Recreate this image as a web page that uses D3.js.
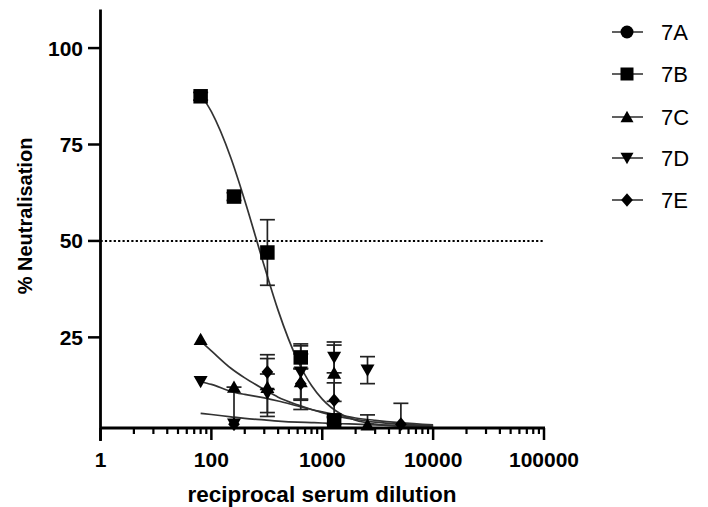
<!DOCTYPE html>
<html>
<head>
<meta charset="utf-8">
<script src="https://cdn.jsdelivr.net/npm/d3@7/dist/d3.min.js"></script>
<style>
  html, body { margin: 0; padding: 0; background: #fff; }
  svg { display: block; }
  text { font-family: "Liberation Sans", Arial, Helvetica, sans-serif; fill: #000; }
</style>
</head>
<body>
<svg id="chart" width="708" height="507"></svg>
<script>
// ---------------- DATA ----------------
const seriesNames = ["7A", "7B", "7C", "7D", "7E"];
const dilutions = [80, 160, 320, 640, 1280, 2560, 5120];

// mean % neutralisation (null = not shown / below axis)
const values7A = [null, null, null, null, null, null, null];
const values7B = [87.5, 61.5, 47, 19.8, 3.5, null, null];
const values7C = [24.5, 12.1, 12, 13.5, 15.7, 2.3, null];
const values7D = [13.5, 2.5, 10.5, 16, 19.8, 16.5, null];
const values7E = [null, 2.5, 16, 13, 8.7, null, 2.5];

// error (±)
const err7A = [null, null, null, null, null, null, null];
const err7B = [1, 1, 8.5, 3, 1, null, null];
const err7C = [0, 0, 7.5, 7.2, 7.3, 2.6, null];
const err7D = [0, 9.6, 5, 7.3, 4, 3.5, null];
const err7E = [null, 0, 4.5, 4, 4.5, null, 5.4];

// fitted curves at these dilutions
const curveX = [80, 100, 150, 200, 300, 400, 600, 800, 1000, 1500, 2000, 3000, 5000, 10000];
const curve7B = [88, 83.5, 71.5, 60.5, 43.5, 32, 19, 12.5, 9, 5, 3.5, 2.5, 2, 1.7];
const curve7C = [24, 21.5, 17, 14.5, 11.5, 9.5, 7.5, 6.3, 5.5, 4.3, 3.7, 3, 2.5, 2];
const curve7D = [13.5, 12.8, 11, 10.2, 9.3, 8.5, 7.2, 6.3, 5.7, 4.7, 4.1, 3.5, 2.9, 2.3];
const curve7E = [5.3, 5, 4.4, 4.0, 3.6, 3.3, 3.0, 2.9, 2.8, 2.6, 2.5, 2.3, 2.1, 2.0];

const xTickValues = [10, 100, 1000, 10000, 100000];
const xTickLabels = ["1", "100", "1000", "10000", "100000"];
const yTickValues = [25, 50, 75, 100];
const refLine = 50;

// ---------------- CHART ----------------
const svg = d3.select("#chart");
const x = d3.scaleLog().domain([10, 100000]).range([100.5, 544]);
const y = d3.scaleLinear().domain([1.5, 110]).range([428, 9.5]);

const series = [
  { name: "7A", v: values7A, e: err7A, c: null, shape: "circle" },
  { name: "7B", v: values7B, e: err7B, c: curve7B, shape: "square" },
  { name: "7C", v: values7C, e: err7C, c: curve7C, shape: "triangle" },
  { name: "7D", v: values7D, e: err7D, c: curve7D, shape: "triangleDown" },
  { name: "7E", v: values7E, e: err7E, c: curve7E, shape: "diamond" }
];

function shapePath(shape, s) {
  const h = s / 2;
  switch (shape) {
    case "circle": {
      const r = h;
      return `M${-r},0A${r},${r} 0 1,0 ${r},0A${r},${r} 0 1,0 ${-r},0Z`;
    }
    case "square": return `M${-h},${-h}H${h}V${h}H${-h}Z`;
    case "triangle": return `M0,${-h * 0.95}L${h},${h * 0.8}L${-h},${h * 0.8}Z`;
    case "triangleDown": return `M0,${h * 0.95}L${h},${-h * 0.8}L${-h},${-h * 0.8}Z`;
    case "diamond": return `M0,${-h * 1.05}L${h * 0.9},0L0,${h * 1.05}L${-h * 0.9},0Z`;
  }
}
const markerSize = { circle: 13, square: 14.5, triangle: 14, triangleDown: 14, diamond: 13 };

svg.append("defs").append("clipPath").attr("id", "plotclip")
  .append("rect").attr("x", 100).attr("y", 0).attr("width", 460).attr("height", 428);

// dotted 50% line
svg.append("line")
  .attr("x1", x(10)).attr("x2", x(100000))
  .attr("y1", y(refLine)).attr("y2", y(refLine))
  .attr("stroke", "#000").attr("stroke-width", 2)
  .attr("stroke-dasharray", "2.2,2.2");

const plot = svg.append("g").attr("clip-path", "url(#plotclip)");

// curves
const line = d3.line()
  .x((d, i) => x(curveX[i]))
  .y(d => y(d))
  .curve(d3.curveMonotoneX);
series.forEach(s => {
  if (!s.c) return;
  plot.append("path")
    .attr("d", line(s.c))
    .attr("fill", "none")
    .attr("stroke", "#333")
    .attr("stroke-width", 1.7);
});

// error bars
const capW = 7.5;
series.forEach(s => {
  s.v.forEach((v, i) => {
    const e = s.e[i];
    if (v == null || e == null || e <= 0) return;
    const cx = x(dilutions[i]);
    const yTop = y(v + e), yBot = y(v - e);
    const g = plot.append("g").attr("stroke", "#222").attr("stroke-width", 1.7);
    g.append("line").attr("x1", cx).attr("x2", cx).attr("y1", yTop).attr("y2", yBot);
    g.append("line").attr("x1", cx - capW).attr("x2", cx + capW).attr("y1", yTop).attr("y2", yTop);
    g.append("line").attr("x1", cx - capW).attr("x2", cx + capW).attr("y1", yBot).attr("y2", yBot);
  });
});

// markers
series.forEach(s => {
  s.v.forEach((v, i) => {
    if (v == null || v < y.domain()[0]) return;
    svg.append("path")
      .attr("d", shapePath(s.shape, markerSize[s.shape]))
      .attr("transform", `translate(${x(dilutions[i])},${y(v)})`)
      .attr("fill", "#000");
  });
});

// axes
const axisG = svg.append("g");
axisG.append("line").attr("x1", 100.5).attr("x2", 100.5).attr("y1", 9.5).attr("y2", 441)
  .attr("stroke", "#000").attr("stroke-width", 2.8);
axisG.append("line").attr("x1", 100.5).attr("x2", 545).attr("y1", 428).attr("y2", 428)
  .attr("stroke", "#000").attr("stroke-width", 2.8);

// y ticks
yTickValues.forEach(t => {
  axisG.append("line").attr("x1", 88).attr("x2", 100.5).attr("y1", y(t)).attr("y2", y(t))
    .attr("stroke", "#000").attr("stroke-width", 2.5);
  axisG.append("text").attr("x", 83).attr("y", y(t)).attr("dy", "0.36em")
    .attr("text-anchor", "end").attr("font-size", 21).attr("font-weight", "bold")
    .text(t);
});

// x ticks (major + minor log ticks)
const minor = [];
for (let dec = 10; dec < 100000; dec *= 10) {
  for (let k = 2; k <= 9; k++) minor.push(dec * k);
}
minor.forEach(t => {
  axisG.append("line").attr("x1", x(t)).attr("x2", x(t)).attr("y1", 428).attr("y2", 434)
    .attr("stroke", "#000").attr("stroke-width", 2.2);
});
xTickValues.forEach((t, i) => {
  axisG.append("line").attr("x1", x(t)).attr("x2", x(t)).attr("y1", 428).attr("y2", 440)
    .attr("stroke", "#000").attr("stroke-width", 2.5);
  axisG.append("text").attr("x", x(t)).attr("y", 459).attr("dy", "0.36em")
    .attr("text-anchor", "middle").attr("font-size", 21).attr("font-weight", "bold")
    .text(xTickLabels[i]);
});

// axis titles
svg.append("text").attr("x", 322).attr("y", 494).attr("dy", "0.36em")
  .attr("text-anchor", "middle").attr("font-size", 22.5).attr("font-weight", "bold")
  .text("reciprocal serum dilution");
svg.append("text")
  .attr("transform", `translate(25,216) rotate(-90)`)
  .attr("dy", "0.36em")
  .attr("text-anchor", "middle").attr("font-size", 20).attr("font-weight", "bold")
  .text("% Neutralisation");

// legend
const legendY = [32, 74, 117, 158, 200];
series.forEach((s, i) => {
  const g = svg.append("g").attr("transform", `translate(0,${legendY[i]})`);
  g.append("line").attr("x1", 612).attr("x2", 643).attr("y1", 0).attr("y2", 0)
    .attr("stroke", "#444").attr("stroke-width", 1.7);
  g.append("path").attr("d", shapePath(s.shape, 13)).attr("transform", "translate(627,0)")
    .attr("fill", "#000");
  g.append("text").attr("x", 661).attr("y", 0).attr("dy", "0.36em")
    .attr("font-size", 22).text(s.name);
});
</script>
</body>
</html>
